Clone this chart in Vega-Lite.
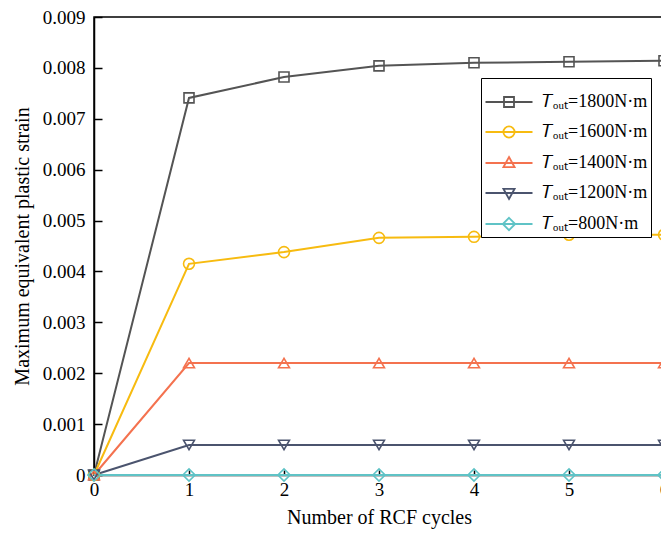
{
  "$schema": "https://vega.github.io/schema/vega-lite/v6.json",
  "width": 570,
  "height": 458,
  "autosize": {"type": "none"},
  "padding": {"left": 94, "top": 17, "right": 5, "bottom": 58},
  "background": "white",
  "config": {
    "font": "Liberation Serif",
    "view": {"stroke": "black", "strokeWidth": 1.5},
    "axis": {
      "domainColor": "black", "domainWidth": 1.5,
      "tickColor": "black", "tickWidth": 1.5,
      "labelFont": "Liberation Serif", "labelFontSize": 19, "labelColor": "black",
      "titleFont": "Liberation Serif", "titleFontSize": 20, "titleFontWeight": "normal", "titleColor": "black",
      "grid": false
    },
    "legend": {
      "strokeColor": "black", "fillColor": "white", "padding": 3,
      "labelFont": "Liberation Serif", "labelFontSize": 18, "labelColor": "black",
      "symbolSize": 1600, "symbolStrokeWidth": 1.8, "symbolOpacity": 1, "symbolOffset": 4, "labelOffset": 12, "rowPadding": 0
    }
  },
  "data": {
    "values": [
      {"cycle": 0, "strain": 0, "torque": 1800},
      {"cycle": 1, "strain": 0.00741, "torque": 1800},
      {"cycle": 2, "strain": 0.00782, "torque": 1800},
      {"cycle": 3, "strain": 0.00804, "torque": 1800},
      {"cycle": 4, "strain": 0.00810, "torque": 1800},
      {"cycle": 5, "strain": 0.00812, "torque": 1800},
      {"cycle": 6, "strain": 0.00814, "torque": 1800},
      {"cycle": 0, "strain": 0, "torque": 1600},
      {"cycle": 1, "strain": 0.00415, "torque": 1600},
      {"cycle": 2, "strain": 0.00438, "torque": 1600},
      {"cycle": 3, "strain": 0.00466, "torque": 1600},
      {"cycle": 4, "strain": 0.00468, "torque": 1600},
      {"cycle": 5, "strain": 0.00472, "torque": 1600},
      {"cycle": 6, "strain": 0.00472, "torque": 1600},
      {"cycle": 0, "strain": 0, "torque": 1400},
      {"cycle": 1, "strain": 0.0022, "torque": 1400},
      {"cycle": 2, "strain": 0.0022, "torque": 1400},
      {"cycle": 3, "strain": 0.0022, "torque": 1400},
      {"cycle": 4, "strain": 0.0022, "torque": 1400},
      {"cycle": 5, "strain": 0.0022, "torque": 1400},
      {"cycle": 6, "strain": 0.0022, "torque": 1400},
      {"cycle": 0, "strain": 0, "torque": 1200},
      {"cycle": 1, "strain": 0.00059, "torque": 1200},
      {"cycle": 2, "strain": 0.00059, "torque": 1200},
      {"cycle": 3, "strain": 0.00059, "torque": 1200},
      {"cycle": 4, "strain": 0.00059, "torque": 1200},
      {"cycle": 5, "strain": 0.00059, "torque": 1200},
      {"cycle": 6, "strain": 0.00059, "torque": 1200},
      {"cycle": 0, "strain": 0, "torque": 800},
      {"cycle": 1, "strain": 0, "torque": 800},
      {"cycle": 2, "strain": 0, "torque": 800},
      {"cycle": 3, "strain": 0, "torque": 800},
      {"cycle": 4, "strain": 0, "torque": 800},
      {"cycle": 5, "strain": 0, "torque": 800},
      {"cycle": 6, "strain": 0, "torque": 800}
    ]
  },
  "encoding": {
    "x": {
      "field": "cycle", "type": "quantitative",
      "scale": {"domain": [0, 6], "nice": false},
      "axis": {"title": "Number of RCF cycles", "values": [0, 1, 2, 3, 4, 5, 6], "tickSize": -5, "labelPadding": 10, "titlePadding": 8, "labelFlush": false}
    },
    "y": {
      "field": "strain", "type": "quantitative",
      "scale": {"domain": [0, 0.009], "nice": false},
      "axis": {
        "title": "Maximum equivalent plastic strain",
        "values": [0, 0.001, 0.002, 0.003, 0.004, 0.005, 0.006, 0.007, 0.008, 0.009],
        "labelExpr": "datum.value == 0 ? '0' : format(datum.value, '.3f')",
        "tickSize": -8, "labelPadding": 17, "titlePadding": 10, "labelFlush": false
      }
    }
  },
  "layer": [
    {
      "mark": {"type": "line", "strokeWidth": 2},
      "encoding": {
        "color": {
          "field": "torque", "type": "nominal",
          "scale": {"domain": [1800, 1600, 1400, 1200, 800], "range": ["#545454", "#f7bb10", "#f4724f", "#4b546e", "#5fc3c6"]},
          "legend": {"title": null, "orient": "none", "legendX": 387, "legendY": 61, "labelExpr": "'𝑇ₒᵤₜ=' + datum.label + 'N·m'"}
        }
      }
    },
    {
      "transform": [{"filter": "datum.torque == 1800"}],
      "mark": {"type": "point", "shape": "square", "filled": false, "size": 100, "strokeWidth": 1.6, "color": "#545454", "opacity": 1}
    },
    {
      "transform": [{"filter": "datum.torque == 1600"}],
      "mark": {"type": "point", "shape": "circle", "filled": false, "size": 120, "strokeWidth": 1.6, "color": "#f7bb10", "opacity": 1}
    },
    {
      "transform": [{"filter": "datum.torque == 1400"}],
      "mark": {"type": "point", "shape": "triangle-up", "filled": false, "size": 120, "strokeWidth": 1.6, "color": "#f4724f", "opacity": 1}
    },
    {
      "transform": [{"filter": "datum.torque == 1200"}],
      "mark": {"type": "point", "shape": "triangle-down", "filled": false, "size": 120, "strokeWidth": 1.6, "color": "#4b546e", "opacity": 1}
    },
    {
      "transform": [{"filter": "datum.torque == 800"}],
      "mark": {"type": "point", "shape": "diamond", "filled": false, "size": 150, "strokeWidth": 1.6, "color": "#5fc3c6", "opacity": 1}
    },
    {
      "transform": [{"filter": "datum.cycle < 0"}],
      "mark": {"type": "point", "filled": false, "opacity": 1},
      "encoding": {
        "color": {
          "field": "torque", "type": "nominal",
          "scale": {"domain": [1800, 1600, 1400, 1200, 800], "range": ["#545454", "#f7bb10", "#f4724f", "#4b546e", "#5fc3c6"]},
          "legend": {"title": null, "orient": "none", "legendX": 387, "legendY": 61, "labelExpr": "'𝑇ₒᵤₜ=' + datum.label + 'N·m'"}
        },
        "shape": {
          "field": "torque", "type": "nominal",
          "scale": {
            "domain": [1800, 1600, 1400, 1200, 800],
            "range": [
              "M-1.175,0L1.175,0M-0.25,-0.25L0.25,-0.25L0.25,0.25L-0.25,0.25Z",
              "M-1.175,0L1.175,0M0.28,0A0.28,0.28 0 1,1 -0.28,0A0.28,0.28 0 1,1 0.28,0Z",
              "M-1.175,0L1.175,0M0,-0.3L0.28,0.21L-0.28,0.21Z",
              "M-1.175,0L1.175,0M0,0.3L0.28,-0.21L-0.28,-0.21Z",
              "M-1.175,0L1.175,0M0,-0.31L0.31,0L0,0.31L-0.31,0Z"
            ]
          },
          "legend": {"title": null, "orient": "none", "legendX": 387, "legendY": 61, "labelExpr": "'𝑇ₒᵤₜ=' + datum.label + 'N·m'"}
        }
      }
    }
  ]
}
